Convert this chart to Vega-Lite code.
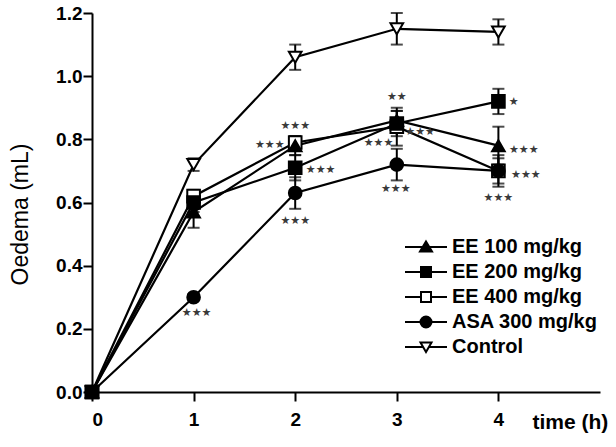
{
  "$schema": "https://vega.github.io/schema/vega-lite/v6.json",
  "width": 508,
  "height": 379,
  "autosize": "none",
  "padding": {"left": 92, "top": 13, "right": 16, "bottom": 55},
  "background": "white",
  "config": {
    "view": {"stroke": null},
    "font": "Liberation Sans",
    "axis": {
      "grid": false,
      "domainColor": "black",
      "domainWidth": 2,
      "tickColor": "black",
      "tickWidth": 2,
      "labelColor": "black",
      "labelFont": "Liberation Sans",
      "labelFontWeight": "bold",
      "labelFontSize": 19,
      "titleColor": "black",
      "titleFont": "Liberation Sans"
    }
  },
  "datasets": {
    "oedema": [
      {"group": "EE 400 mg/kg", "time": 0, "mean": 0, "sem": 0},
      {"group": "EE 400 mg/kg", "time": 1, "mean": 0.62, "sem": 0.02},
      {"group": "EE 400 mg/kg", "time": 2, "mean": 0.79, "sem": 0.02},
      {"group": "EE 400 mg/kg", "time": 3, "mean": 0.84, "sem": 0.06},
      {"group": "EE 400 mg/kg", "time": 4, "mean": 0.70, "sem": 0.05},
      {"group": "Control", "time": 0, "mean": 0, "sem": 0},
      {"group": "Control", "time": 1, "mean": 0.72, "sem": 0.02},
      {"group": "Control", "time": 2, "mean": 1.06, "sem": 0.04},
      {"group": "Control", "time": 3, "mean": 1.15, "sem": 0.05},
      {"group": "Control", "time": 4, "mean": 1.14, "sem": 0.04},
      {"group": "ASA 300 mg/kg", "time": 0, "mean": 0, "sem": 0},
      {"group": "ASA 300 mg/kg", "time": 1, "mean": 0.30, "sem": 0.01},
      {"group": "ASA 300 mg/kg", "time": 2, "mean": 0.63, "sem": 0.05},
      {"group": "ASA 300 mg/kg", "time": 3, "mean": 0.72, "sem": 0.05},
      {"group": "ASA 300 mg/kg", "time": 4, "mean": 0.70, "sem": 0.04},
      {"group": "EE 100 mg/kg", "time": 0, "mean": 0, "sem": 0},
      {"group": "EE 100 mg/kg", "time": 1, "mean": 0.57, "sem": 0.05},
      {"group": "EE 100 mg/kg", "time": 2, "mean": 0.78, "sem": 0.03},
      {"group": "EE 100 mg/kg", "time": 3, "mean": 0.86, "sem": 0.03},
      {"group": "EE 100 mg/kg", "time": 4, "mean": 0.78, "sem": 0.06},
      {"group": "EE 200 mg/kg", "time": 0, "mean": 0, "sem": 0},
      {"group": "EE 200 mg/kg", "time": 1, "mean": 0.60, "sem": 0.03},
      {"group": "EE 200 mg/kg", "time": 2, "mean": 0.71, "sem": 0.04},
      {"group": "EE 200 mg/kg", "time": 3, "mean": 0.85, "sem": 0.04},
      {"group": "EE 200 mg/kg", "time": 4, "mean": 0.92, "sem": 0.04}
    ],
    "significance": [
      {"time": 1.03, "oedema": 0.25, "stars": "★★★"},
      {"time": 2.0, "oedema": 0.842, "stars": "★★★"},
      {"time": 1.75, "oedema": 0.782, "stars": "★★★"},
      {"time": 2.25, "oedema": 0.703, "stars": "★★★"},
      {"time": 2.0, "oedema": 0.541, "stars": "★★★"},
      {"time": 3.0, "oedema": 0.935, "stars": "★★"},
      {"time": 3.23, "oedema": 0.824, "stars": "★★★"},
      {"time": 2.82, "oedema": 0.788, "stars": "★★★"},
      {"time": 2.99, "oedema": 0.643, "stars": "★★★"},
      {"time": 4.15, "oedema": 0.918, "stars": "★"},
      {"time": 4.25, "oedema": 0.766, "stars": "★★★"},
      {"time": 4.27, "oedema": 0.687, "stars": "★★★"},
      {"time": 4.0, "oedema": 0.614, "stars": "★★★"}
    ]
  },
  "resolve": {
    "scale": {"shape": "independent", "fill": "independent"},
    "legend": {"shape": "independent", "fill": "independent"}
  },
  "layer": [
    {
      "data": {"name": "oedema"},
      "transform": [{"filter": "datum.sem > 0"}],
      "mark": {
        "type": "errorbar",
        "color": "black",
        "rule": {"strokeWidth": 2},
        "ticks": {"size": 12, "thickness": 2}
      },
      "encoding": {
        "x": {
          "field": "time",
          "type": "quantitative",
          "scale": {"domain": [0, 5], "nice": false},
          "axis": {
            "values": [0, 1, 2, 3, 4],
            "format": "d",
            "tickSize": 9,
            "labelPadding": 9,
            "title": "time (h)",
            "titleFontSize": 21,
            "titleFontWeight": "bold",
            "titleAnchor": null,
            "titleAlign": "left",
            "titleBaseline": "alphabetic",
            "titleX": 440,
            "titleY": 36
          }
        },
        "y": {
          "field": "mean",
          "type": "quantitative",
          "scale": {"domain": [0, 1.2], "nice": false},
          "axis": {
            "values": [0, 0.2, 0.4, 0.6, 0.8, 1.0, 1.2],
            "format": ".1f",
            "tickSize": 9,
            "labelPadding": 1,
            "title": "Oedema (mL)",
            "titleFontSize": 23,
            "titleFontWeight": "normal",
            "titleAngle": 270,
            "titleAlign": "center",
            "titleBaseline": "middle",
            "titleAnchor": null,
            "titleX": -72,
            "titleY": 201
          }
        },
        "yError": {"field": "sem"},
        "detail": {"field": "group"}
      }
    },
    {
      "data": {"name": "oedema"},
      "mark": {"type": "line", "color": "black", "strokeWidth": 2.2},
      "encoding": {
        "x": {"field": "time", "type": "quantitative"},
        "y": {"field": "mean", "type": "quantitative"},
        "detail": {"field": "group"}
      }
    },
    {
      "data": {"name": "oedema"},
      "mark": {"type": "point", "stroke": "black", "strokeWidth": 2, "size": 160, "opacity": 1},
      "encoding": {
        "x": {"field": "time", "type": "quantitative"},
        "y": {"field": "mean", "type": "quantitative"},
        "shape": {
          "field": "group",
          "type": "nominal",
          "scale": {
            "domain": ["EE 100 mg/kg", "EE 200 mg/kg", "EE 400 mg/kg", "ASA 300 mg/kg", "Control"],
            "range": ["triangle-up", "square", "square", "circle", "triangle-down"]
          },
          "legend": null
        },
        "fill": {
          "field": "group",
          "type": "nominal",
          "scale": {
            "domain": ["EE 100 mg/kg", "EE 200 mg/kg", "EE 400 mg/kg", "ASA 300 mg/kg", "Control"],
            "range": ["black", "black", "white", "black", "white"]
          },
          "legend": null
        }
      }
    },
    {
      "data": {"name": "oedema"},
      "mark": {"type": "point", "opacity": 0, "size": 100},
      "encoding": {
        "x": {"field": "time", "type": "quantitative"},
        "y": {"field": "mean", "type": "quantitative"},
        "shape": {
          "field": "group",
          "type": "nominal",
          "scale": {
            "domain": ["EE 100 mg/kg", "EE 200 mg/kg", "EE 400 mg/kg", "ASA 300 mg/kg", "Control"],
            "range": [
              "M-4.2,0H4.2M0,-1.1L1.2,0.9L-1.2,0.9Z",
              "M-4.2,0H4.2M-1,-1H1V1H-1Z",
              "M-4.2,0H-1M1,0H4.2M-1,-1H1V1H-1Z",
              "M-4.2,0H4.2M-1.1,0A1.1,1.1 0 1,0 1.1,0A1.1,1.1 0 1,0 -1.1,0Z",
              "M-4.2,0H-0.6M0.6,0H4.2M-1.1,-0.9L1.1,-0.9L0,1Z"
            ]
          },
          "legend": {
            "title": null,
            "orient": "none",
            "legendX": 324,
            "legendY": 224,
            "padding": 0,
            "symbolSize": 100,
            "symbolStrokeWidth": 2,
            "symbolStrokeColor": "black",
            "labelFont": "Liberation Sans",
            "labelFontWeight": "bold",
            "labelFontSize": 20,
            "labelColor": "black",
            "labelOffset": 16,
            "rowPadding": 5,
            "labelLimit": 300,
            "encode": {
              "symbols": {
                "update": {
                  "opacity": {"value": 1},
                  "stroke": {"value": "black"},
                  "strokeWidth": {"value": 2}
                }
              }
            }
          }
        },
        "fill": {
          "field": "group",
          "type": "nominal",
          "scale": {
            "domain": ["EE 100 mg/kg", "EE 200 mg/kg", "EE 400 mg/kg", "ASA 300 mg/kg", "Control"],
            "range": ["black", "black", "white", "black", "white"]
          },
          "legend": {
            "title": null,
            "orient": "none",
            "legendX": 324,
            "legendY": 224,
            "padding": 0,
            "symbolSize": 100,
            "symbolStrokeWidth": 2,
            "symbolStrokeColor": "black",
            "labelFont": "Liberation Sans",
            "labelFontWeight": "bold",
            "labelFontSize": 20,
            "labelColor": "black",
            "labelOffset": 16,
            "rowPadding": 5,
            "labelLimit": 300,
            "encode": {
              "symbols": {
                "update": {
                  "opacity": {"value": 1},
                  "stroke": {"value": "black"},
                  "strokeWidth": {"value": 2}
                }
              }
            }
          }
        }
      }
    },
    {
      "data": {"name": "significance"},
      "mark": {"type": "text", "font": "DejaVu Sans", "fontSize": 11, "color": "#3a3a3a", "align": "center", "baseline": "middle"},
      "encoding": {
        "x": {"field": "time", "type": "quantitative"},
        "y": {"field": "oedema", "type": "quantitative"},
        "text": {"field": "stars"}
      }
    }
  ]
}
